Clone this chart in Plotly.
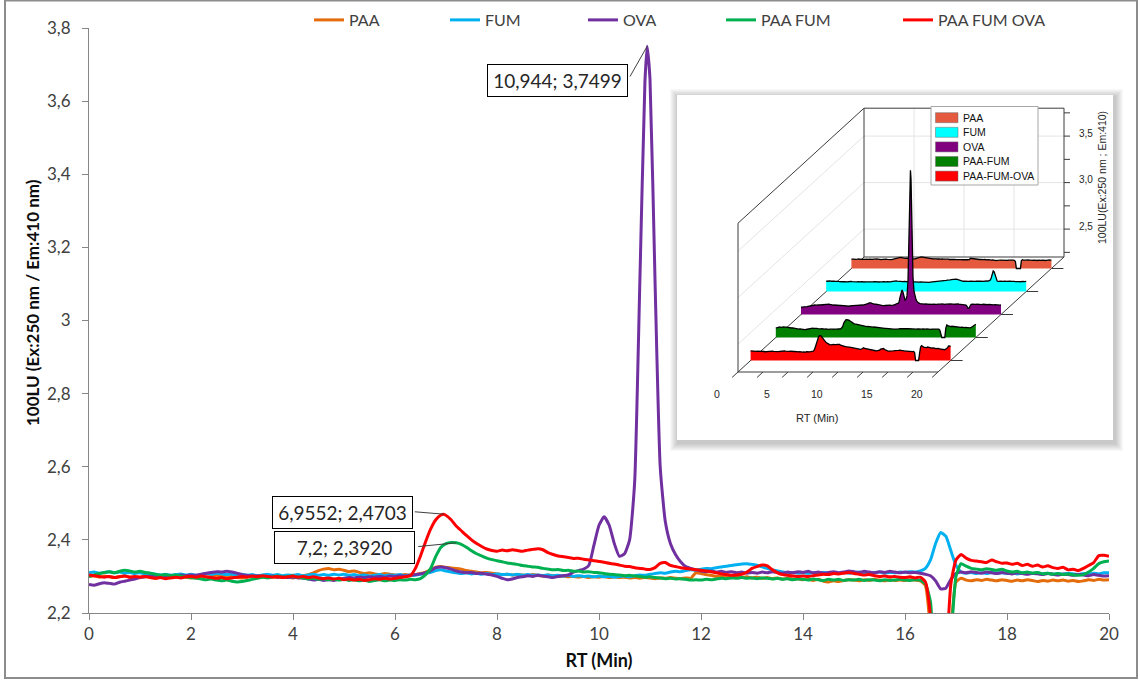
import plotly.graph_objects as go

# ---------------- data ----------------
RT = [round(0.1 * i, 1) for i in range(201)]

SERIES = ["PAA", "FUM", "OVA", "PAA FUM", "PAA FUM OVA"]
COLORS = ["#E46C0A", "#00B0F0", "#7030A0", "#00B050", "#FF0000"]
INSET_LABELS = ["PAA", "FUM", "OVA", "PAA-FUM", "PAA-FUM-OVA"]
INSET_COLORS = ["#E55A3E", "#00FFFF", "#800080", "#008000", "#FF0000"]

PAA = [
    2.300, 2.302, 2.298, 2.301, 2.299, 2.297, 2.300, 2.302, 2.298, 2.296,
    2.298, 2.300, 2.297, 2.295, 2.298, 2.300, 2.297, 2.299, 2.301, 2.298,
    2.296, 2.299, 2.301, 2.298, 2.300, 2.303, 2.301, 2.298, 2.300, 2.297,
    2.296, 2.299, 2.301, 2.300, 2.298, 2.301, 2.299, 2.297, 2.300, 2.298,
    2.296, 2.299, 2.302, 2.305, 2.310, 2.316, 2.320, 2.322, 2.318, 2.320,
    2.317, 2.313, 2.315, 2.311, 2.308, 2.310, 2.307, 2.305, 2.308, 2.306,
    2.304, 2.303, 2.305, 2.303, 2.305, 2.308, 2.312, 2.318, 2.325, 2.327,
    2.325, 2.323, 2.322, 2.320, 2.316, 2.314, 2.312, 2.310, 2.311, 2.309,
    2.307, 2.305, 2.306, 2.304, 2.305, 2.304, 2.302, 2.305, 2.303, 2.301,
    2.304, 2.302, 2.300, 2.301, 2.299, 2.300, 2.298, 2.300, 2.297, 2.299,
    2.298, 2.300, 2.297, 2.299, 2.297, 2.298, 2.296, 2.297, 2.295, 2.297,
    2.296, 2.294, 2.296, 2.295, 2.297, 2.295, 2.294, 2.296, 2.295, 2.310,
    2.308, 2.305, 2.303, 2.300, 2.302, 2.299, 2.300, 2.298, 2.297, 2.299,
    2.296, 2.298, 2.295, 2.297, 2.294, 2.296, 2.293, 2.295, 2.292, 2.294,
    2.291, 2.293, 2.289, 2.292, 2.287, 2.285, 2.288, 2.286, 2.289, 2.291,
    2.290, 2.288, 2.291, 2.289, 2.292, 2.290, 2.288, 2.291, 2.289, 2.290,
    2.289, 2.291, 2.290, 2.288, 2.275, 2.150, 1.900, 1.800, 1.950, 2.150,
    2.285, 2.295, 2.290, 2.288, 2.291, 2.289, 2.292, 2.290, 2.288, 2.291,
    2.289, 2.287, 2.290, 2.288, 2.291, 2.289, 2.286, 2.289, 2.287, 2.290,
    2.288, 2.290, 2.287, 2.289, 2.286, 2.288, 2.291, 2.289, 2.292, 2.290,
    2.291,
]

FUM = [
    2.310, 2.312, 2.309, 2.311, 2.313, 2.310, 2.312, 2.309, 2.311, 2.308,
    2.310, 2.307, 2.309, 2.306, 2.304, 2.306, 2.303, 2.305, 2.307, 2.304,
    2.306, 2.303, 2.305, 2.308, 2.306, 2.309, 2.307, 2.305, 2.307, 2.304,
    2.306, 2.303, 2.305, 2.302, 2.304, 2.306, 2.303, 2.305, 2.302, 2.304,
    2.303, 2.305, 2.302, 2.304, 2.306, 2.303, 2.305, 2.303, 2.306, 2.304,
    2.306, 2.303, 2.305, 2.302, 2.304, 2.301, 2.303, 2.305, 2.302, 2.304,
    2.303, 2.305, 2.302, 2.304, 2.303, 2.306, 2.308, 2.311, 2.316, 2.318,
    2.315, 2.312, 2.310, 2.308, 2.310, 2.307, 2.309, 2.306, 2.308, 2.305,
    2.307, 2.305, 2.306, 2.304, 2.306, 2.303, 2.305, 2.303, 2.304, 2.302,
    2.304, 2.302, 2.303, 2.301, 2.303, 2.300, 2.302, 2.300, 2.301, 2.299,
    2.301, 2.299, 2.300, 2.298, 2.300, 2.301, 2.299, 2.302, 2.304, 2.303,
    2.306, 2.308, 2.310, 2.309, 2.312, 2.314, 2.313, 2.316, 2.318, 2.317,
    2.320, 2.322, 2.321, 2.324, 2.326, 2.328, 2.330, 2.332, 2.334, 2.335,
    2.333, 2.331, 2.326, 2.322, 2.318, 2.315, 2.312, 2.310, 2.311, 2.309,
    2.310, 2.308, 2.310, 2.309, 2.311, 2.309, 2.310, 2.308, 2.311, 2.309,
    2.310, 2.312, 2.309, 2.311, 2.310, 2.312, 2.309, 2.311, 2.310, 2.312,
    2.311, 2.313, 2.312, 2.315, 2.322, 2.345, 2.390, 2.420, 2.410, 2.370,
    2.330, 2.312, 2.309, 2.311, 2.308, 2.310, 2.308, 2.311, 2.309, 2.310,
    2.308, 2.310, 2.307, 2.309, 2.311, 2.308, 2.310, 2.307, 2.309, 2.306,
    2.308, 2.306, 2.309, 2.307, 2.305, 2.308, 2.306, 2.309, 2.307, 2.310,
    2.310,
]

OVA = [
    2.278, 2.276, 2.280, 2.283, 2.281, 2.279, 2.284, 2.287, 2.290, 2.293,
    2.297, 2.299, 2.301, 2.300, 2.302, 2.300, 2.303, 2.301, 2.304, 2.302,
    2.304, 2.303, 2.306, 2.309, 2.311, 2.313, 2.312, 2.314, 2.312, 2.309,
    2.305, 2.303, 2.301, 2.302, 2.300, 2.299, 2.301, 2.298, 2.300, 2.297,
    2.298, 2.296, 2.295, 2.293, 2.290, 2.292, 2.289, 2.291, 2.289, 2.293,
    2.295, 2.297, 2.296, 2.298, 2.297, 2.299, 2.298, 2.300, 2.298, 2.301,
    2.300, 2.302, 2.301, 2.303, 2.305, 2.307, 2.310, 2.316, 2.324, 2.326,
    2.324, 2.320, 2.315, 2.312, 2.310, 2.311, 2.308, 2.309, 2.306, 2.304,
    2.300, 2.295, 2.291, 2.293, 2.297, 2.299, 2.302, 2.300, 2.303, 2.301,
    2.299, 2.297, 2.300, 2.302, 2.304, 2.312, 2.316, 2.320, 2.330, 2.385,
    2.440, 2.463, 2.440, 2.390, 2.355, 2.362, 2.400, 2.560, 3.100, 3.650,
    3.660, 3.100, 2.600, 2.450, 2.390, 2.360, 2.340, 2.327, 2.322, 2.318,
    2.315, 2.313, 2.315, 2.312, 2.314, 2.311, 2.313, 2.310, 2.312, 2.309,
    2.311, 2.309, 2.312, 2.310, 2.313, 2.311, 2.309, 2.312, 2.310, 2.313,
    2.311, 2.314, 2.310, 2.312, 2.309, 2.311, 2.313, 2.310, 2.312, 2.315,
    2.313, 2.311, 2.314, 2.312, 2.310, 2.313, 2.311, 2.314, 2.312, 2.310,
    2.312, 2.310, 2.311, 2.309, 2.306, 2.302, 2.288, 2.266, 2.268, 2.292,
    2.308, 2.312, 2.310, 2.313, 2.311, 2.309, 2.312, 2.310, 2.308, 2.311,
    2.309, 2.307, 2.310, 2.308, 2.306, 2.309, 2.307, 2.305, 2.308, 2.306,
    2.304, 2.307, 2.305, 2.303, 2.306, 2.304, 2.302, 2.305, 2.303, 2.301,
    2.302,
]

PAA_FUM = [
    2.300, 2.304, 2.308, 2.311, 2.313, 2.310, 2.314, 2.317, 2.315, 2.312,
    2.314, 2.311, 2.309, 2.306, 2.303, 2.305, 2.302, 2.304, 2.301, 2.299,
    2.297, 2.295, 2.293, 2.291, 2.293, 2.290, 2.288, 2.290, 2.287, 2.285,
    2.286, 2.289, 2.292, 2.295, 2.298, 2.296, 2.299, 2.301, 2.298, 2.300,
    2.301, 2.298, 2.296, 2.293, 2.295, 2.292, 2.294, 2.291, 2.293, 2.290,
    2.292, 2.289, 2.291, 2.288, 2.290, 2.286, 2.289, 2.291, 2.288, 2.290,
    2.289, 2.291, 2.290, 2.292, 2.291, 2.294, 2.305, 2.322, 2.355, 2.380,
    2.390, 2.393, 2.392, 2.388, 2.380, 2.370, 2.362, 2.356, 2.350, 2.346,
    2.343, 2.340, 2.337, 2.335, 2.333, 2.330, 2.328, 2.326, 2.325, 2.322,
    2.320, 2.318, 2.319, 2.316, 2.317, 2.314, 2.315, 2.312, 2.313, 2.311,
    2.310, 2.308, 2.306, 2.305, 2.304, 2.302, 2.303, 2.301, 2.300, 2.298,
    2.299, 2.297, 2.296, 2.294, 2.295, 2.293, 2.294, 2.292, 2.290, 2.291,
    2.290, 2.292, 2.291, 2.293, 2.295, 2.294, 2.296, 2.295, 2.297, 2.295,
    2.296, 2.294, 2.296, 2.295, 2.293, 2.295, 2.292, 2.294, 2.291, 2.293,
    2.292, 2.290, 2.293, 2.291, 2.289, 2.292, 2.290, 2.292, 2.289, 2.291,
    2.290, 2.292, 2.289, 2.291, 2.290, 2.288, 2.291, 2.289, 2.290, 2.292,
    2.290, 2.289, 2.291, 2.290, 2.280, 2.230, 1.950, 1.800, 1.900, 2.120,
    2.300, 2.335, 2.328, 2.322, 2.320, 2.318, 2.321, 2.319, 2.317, 2.320,
    2.315, 2.312, 2.314, 2.310, 2.312, 2.309, 2.311, 2.307, 2.309, 2.306,
    2.308, 2.305, 2.307, 2.304, 2.303, 2.305, 2.312, 2.322, 2.335, 2.340,
    2.342,
]

PAA_FUM_OVA = [
    2.304, 2.302, 2.300, 2.298, 2.300, 2.297, 2.299, 2.301, 2.298, 2.300,
    2.298, 2.300, 2.297, 2.295, 2.297, 2.294, 2.296, 2.298, 2.296, 2.299,
    2.300, 2.298, 2.301, 2.299, 2.297, 2.295, 2.297, 2.294, 2.296, 2.298,
    2.300, 2.298, 2.301, 2.299, 2.302, 2.300, 2.298, 2.300, 2.297, 2.299,
    2.301, 2.298, 2.300, 2.297, 2.299, 2.296, 2.294, 2.296, 2.293, 2.295,
    2.291, 2.293, 2.290, 2.292, 2.289, 2.291, 2.294, 2.292, 2.295, 2.293,
    2.295, 2.297, 2.299, 2.302, 2.322, 2.356, 2.395, 2.430, 2.455, 2.468,
    2.467, 2.455, 2.438, 2.425, 2.412, 2.400, 2.390, 2.382, 2.375, 2.371,
    2.369, 2.372, 2.370, 2.373, 2.371, 2.369, 2.372, 2.374, 2.376, 2.373,
    2.365, 2.360, 2.356, 2.354, 2.352, 2.349, 2.350, 2.347, 2.345, 2.343,
    2.341, 2.339, 2.336, 2.334, 2.331, 2.328, 2.327, 2.324, 2.322, 2.320,
    2.319, 2.324, 2.336, 2.338, 2.330, 2.327, 2.324, 2.322, 2.320, 2.318,
    2.317, 2.315, 2.313, 2.310, 2.307, 2.305, 2.303, 2.304, 2.306, 2.312,
    2.322, 2.327, 2.331, 2.329, 2.318, 2.310, 2.305, 2.303, 2.301, 2.300,
    2.301, 2.300, 2.302, 2.304, 2.306, 2.305, 2.308, 2.307, 2.309, 2.311,
    2.308, 2.306, 2.304, 2.305, 2.302, 2.300, 2.301, 2.299, 2.300, 2.298,
    2.297, 2.299, 2.296, 2.298, 2.285, 2.190, 1.900, 1.800, 2.050, 2.280,
    2.345, 2.360, 2.350, 2.344, 2.342, 2.340, 2.338, 2.345, 2.340, 2.336,
    2.337, 2.333, 2.336, 2.330, 2.333, 2.328, 2.331, 2.326, 2.329, 2.324,
    2.322, 2.325, 2.318, 2.320, 2.316, 2.322, 2.330, 2.338, 2.357, 2.358,
    2.355,
]

# labelled points (RT, signal, series index)
PEAK_RT = [10.944, 6.9552, 7.2]
PEAK_VAL = [3.7499, 2.4703, 2.3920]
PEAK_SERIES = [2, 4, 3]

X_TICKS = [0, 2, 4, 6, 8, 10, 12, 14, 16, 18, 20]
INSET_X_LABELS = [0, 5, 10, 15, 20]
INSET_Z_LABELS = [2.5, 3.0, 3.5]

VALUES = [PAA, FUM, OVA, PAA_FUM, PAA_FUM_OVA]


def with_point(xs, ys, px, py):
    if px in xs:
        return list(xs), list(ys)
    pts = sorted(list(zip(xs, ys)) + [(px, py)])
    return [p[0] for p in pts], [p[1] for p in pts]


series_x = [list(RT) for _ in VALUES]
series_y = [list(v) for v in VALUES]
for rt, val, si in zip(PEAK_RT, PEAK_VAL, PEAK_SERIES):
    series_x[si], series_y[si] = with_point(series_x[si], series_y[si], rt, val)

# ---------------- layout geometry (pixels) ----------------
W, H = 1140, 684
PL, PR, PT, PB = 89, 1109, 28, 613


def P(px, py):
    return (px - PL) / (PR - PL), (PB - py) / (PB - PT)


FONT = "Lato, Carlito, Calibri, Arial, sans-serif"
ARIAL = "Liberation Sans, Arial, sans-serif"
AXIS_GRAY = "#868686"
TEXT = "#404040"

fig = go.Figure()

# main traces, one legend each
for i, name in enumerate(SERIES):
    fig.add_trace(go.Scatter(
        x=series_x[i], y=series_y[i], mode="lines", name=name,
        line=dict(color=COLORS[i], width=3, shape="spline", smoothing=0.5),
        legend="legend" if i == 0 else f"legend{i + 1}",
        hoverinfo="skip",
    ))

# ---------------- inset pseudo-3D (pixel space on x2/y2) ----------------
OX, OY = 738.0, 372.0      # front-left-bottom corner
SX = 10.0                  # px per minute
DX, DY = 25.2, -23.0       # px per depth step (one series)
ZS = 93.0                  # px per signal unit
Z0, Z1 = 2.2, 3.8
NDEPTH = 5


def proj(t, z, d):
    return OX + SX * t + DX * d, OY - (z - Z0) * ZS + DY * d


for i in range(len(SERIES)):           # back (PAA) to front (PAA FUM OVA)
    d = 0.5 + (len(SERIES) - 1 - i)
    pts = [proj(t, min(max(v, Z0), Z1), d) for t, v in zip(series_x[i], series_y[i])]
    xb0, yb0 = proj(series_x[i][0], Z0, d)
    xb1, yb1 = proj(series_x[i][-1], Z0, d)
    poly_x = [p[0] for p in pts] + [xb1, xb0, pts[0][0]]
    poly_y = [p[1] for p in pts] + [yb1, yb0, pts[0][1]]
    fig.add_trace(go.Scatter(
        x=poly_x, y=poly_y, xaxis="x2", yaxis="y2", mode="lines",
        fill="toself", fillcolor=INSET_COLORS[i], line=dict(width=0),
        showlegend=False, hoverinfo="skip"))
    fig.add_trace(go.Scatter(
        x=[p[0] for p in pts], y=[p[1] for p in pts], xaxis="x2", yaxis="y2",
        mode="lines", line=dict(color="#000000", width=1.3),
        showlegend=False, hoverinfo="skip"))

shapes = []


def rect(x0, y0, x1, y1, fill, line_color=None, lw=0):
    a = P(x0, y1)
    b = P(x1, y0)
    shapes.append(dict(type="rect", xref="paper", yref="paper",
                       x0=a[0], y0=a[1], x1=b[0], y1=b[1], layer="below",
                       fillcolor=fill,
                       line=dict(color=line_color or "rgba(0,0,0,0)", width=lw)))


def seg(p1, p2, color="#3a3a3a", width=1):
    a = P(*p1)
    b = P(*p2)
    shapes.append(dict(type="line", xref="paper", yref="paper",
                       x0=a[0], y0=a[1], x1=b[0], y1=b[1], layer="below",
                       line=dict(color=color, width=width)))


# outer chart frame
rect(5, 0.5, 1137, 678, "rgba(0,0,0,0)", "#8c8c8c", 2)

# inset shadow + white card
BX0, BY0, BX1, BY1 = 677, 95, 1113, 440
for s in range(1, 9):
    rect(BX0 - s + 1, BY0 - s + 2, BX1 + s + 2, BY1 + s + 3, "rgba(0,0,0,0.028)")
rect(BX0, BY0, BX1, BY1, "#FFFFFF")

# faint grid on back wall and left wall
GRID = "#E4E4E4"
for t in [5, 10, 15]:
    seg(proj(t, Z0, NDEPTH), proj(t, Z1, NDEPTH), GRID)
for z in [2.5, 3.0, 3.5]:
    seg(proj(0, z, NDEPTH), proj(20, z, NDEPTH), GRID)
    seg(proj(0, z, 0), proj(0, z, NDEPTH), GRID)

# box edges
EDGE = "#3a3a3a"
seg(proj(0, Z0, NDEPTH), proj(0, Z1, NDEPTH), EDGE)
seg(proj(0, Z1, NDEPTH), proj(20, Z1, NDEPTH), EDGE)
seg(proj(20, Z0, NDEPTH), proj(20, Z1, NDEPTH), EDGE)
seg(proj(0, Z0, NDEPTH), proj(20, Z0, NDEPTH), EDGE)
seg(proj(0, Z1, 0), proj(0, Z1, NDEPTH), EDGE)
seg(proj(0, Z0, 0), proj(0, Z1, 0), EDGE)
seg(proj(0, Z0, 0), proj(20, Z0, 0), EDGE)
seg(proj(0, Z0, 0), proj(0, Z0, NDEPTH), EDGE)
seg(proj(20, Z0, 0), proj(20, Z0, NDEPTH), EDGE)

# x ticks (front edge), z ticks (back right), depth ticks
for k in range(9):
    t = 2.5 * k
    x, y = proj(t, Z0, 0)
    seg((x, y), (x - 5.9, y + 5.4), EDGE)
for k in range(7):
    z = 2.25 + 0.25 * k
    x, y = proj(20, z, NDEPTH)
    seg((x, y), (x + 6, y), EDGE)
for k in range(NDEPTH):
    x, y = proj(20, Z0, 0.5 + k)
    seg((x, y), (x + 12, y), EDGE)

# inset legend
LX0, LY0, LX1, LY1 = 931, 106.5, 1038, 185
rect(LX0, LY0, LX1, LY1, "#FFFFFF", "#A6A6A6", 1)
annotations = []
for r in range(len(SERIES)):
    yc = 117.7 + 14.6 * r
    rect(935.5, yc - 5, 958, yc + 5, INSET_COLORS[r], "#6a6a6a", 0.5)
    ax_, ay_ = P(961, yc)
    annotations.append(dict(xref="paper", yref="paper", x=ax_, y=ay_,
                            text=INSET_LABELS[r], showarrow=False,
                            xanchor="left", yanchor="middle",
                            font=dict(family=ARIAL, size=10.5, color="#111111")))

# inset axis labels
for t in INSET_X_LABELS:
    x, y = proj(t, Z0, 0)
    ax_, ay_ = P(x - 21.5, y + 22)
    annotations.append(dict(xref="paper", yref="paper", x=ax_, y=ay_,
                            xanchor="center", yanchor="middle",
                            text=str(t), showarrow=False,
                            font=dict(family=ARIAL, size=10.5, color="#262626")))
for z in INSET_Z_LABELS:
    x, y = proj(20, z, NDEPTH)
    ax_, ay_ = P(x + 22, y - 3)
    annotations.append(dict(xref="paper", yref="paper", x=ax_, y=ay_,
                            xanchor="center", yanchor="middle",
                            text=f"{z:.1f}".replace(".", ","), showarrow=False,
                            font=dict(family=ARIAL, size=10, color="#262626")))
ax_, ay_ = P(817, 418)
annotations.append(dict(xref="paper", yref="paper", x=ax_, y=ay_, text="RT (Min)",
                        xanchor="center", yanchor="middle",
                        showarrow=False, font=dict(family=ARIAL, size=11, color="#262626")))
ax_, ay_ = P(1102, 178)
annotations.append(dict(xref="paper", yref="paper", x=ax_, y=ay_,
                        xanchor="center", yanchor="middle",
                        text="100LU(Ex:250 nm ; Em:410)", textangle=-90,
                        showarrow=False, font=dict(family=ARIAL, size=10.5, color="#262626")))

# ---------------- peak call-outs ----------------
BOX_SHIFT = [(-89.6, -33.7), (-101.2, 1.2), (-112.2, -4.2)]
LEADER = [(-18, 31.7), (-30.4, -2.5), (-39.5, 3.9)]
for (rt, val), (xs, ys), (lx, ly) in zip(zip(PEAK_RT, PEAK_VAL), BOX_SHIFT, LEADER):
    label = f"{rt}".replace(".", ",") + "; " + f"{val:.4f}".replace(".", ",")
    annotations.append(dict(x=rt, y=val, xref="x", yref="y", showarrow=True,
                            text="", arrowhead=0, arrowwidth=1, arrowcolor="#404040",
                            ax=lx, ay=ly, standoff=0, startstandoff=0))
    annotations.append(dict(x=rt, y=val, xref="x", yref="y", showarrow=False,
                            text=label, xshift=xs, yshift=ys,
                            xanchor="center", yanchor="middle",
                            bgcolor="#FFFFFF", bordercolor="#000000", borderwidth=1,
                            borderpad=3, width=133, height=25,
                            font=dict(family=FONT, size=19, color="#262626")))

# y-axis title (as text)
ax_, ay_ = P(32, 303)
annotations.append(dict(xref="paper", yref="paper", x=ax_, y=ay_,
                        xanchor="center", yanchor="middle",
                        text="<b>100LU (Ex:250 nm / Em:410 nm)</b>", textangle=-90,
                        showarrow=False, font=dict(family=FONT, size=17, color="#0d0d0d")))

# ---------------- legends ----------------
LEG_TEXT_X = [349, 485, 623, 761, 938]
legends = {}
for i, tx in enumerate(LEG_TEXT_X):
    key = "legend" if i == 0 else f"legend{i + 1}"
    legends[key] = dict(x=(tx - 40) / W, y=1 - 20 / H, xref="container", yref="container",
                        xanchor="left", yanchor="middle",
                        orientation="h", bgcolor="rgba(0,0,0,0)", borderwidth=0,
                        font=dict(family=FONT, size=16, color=TEXT))

fig.update_layout(
    width=W, height=H,
    margin=dict(l=PL, r=W - PR, t=PT, b=H - PB, pad=0, autoexpand=False),
    paper_bgcolor="#FFFFFF", plot_bgcolor="rgba(0,0,0,0)",
    separators=", ",
    showlegend=True,
    xaxis=dict(range=[0, 20], tickvals=X_TICKS, showgrid=False, zeroline=False,
               showline=True, linecolor=AXIS_GRAY, linewidth=1,
               ticks="outside", ticklen=6, tickcolor=AXIS_GRAY, tickwidth=1,
               tickfont=dict(family=FONT, size=17, color=TEXT),
               title=dict(text="<b>RT (Min)</b>", standoff=10,
                          font=dict(family=FONT, size=18, color="#0d0d0d"))),
    yaxis=dict(range=[2.2, 3.8], dtick=0.2, tick0=2.2, showgrid=False, zeroline=False,
               showline=True, linecolor=AXIS_GRAY, linewidth=1,
               ticks="outside", ticklen=6, tickcolor=AXIS_GRAY, tickwidth=1,
               ticklabelstandoff=8,
               tickfont=dict(family=FONT, size=17, color=TEXT)),
    xaxis2=dict(domain=[0, 1], range=[PL, PR], overlaying="x", anchor="y2",
                visible=False, fixedrange=True),
    yaxis2=dict(domain=[0, 1], range=[PB, PT], overlaying="y", anchor="x2",
                visible=False, fixedrange=True),
    shapes=shapes,
    annotations=annotations,
    **legends,
)

fig.write_html("out.html", config={"displayModeBar": False})
